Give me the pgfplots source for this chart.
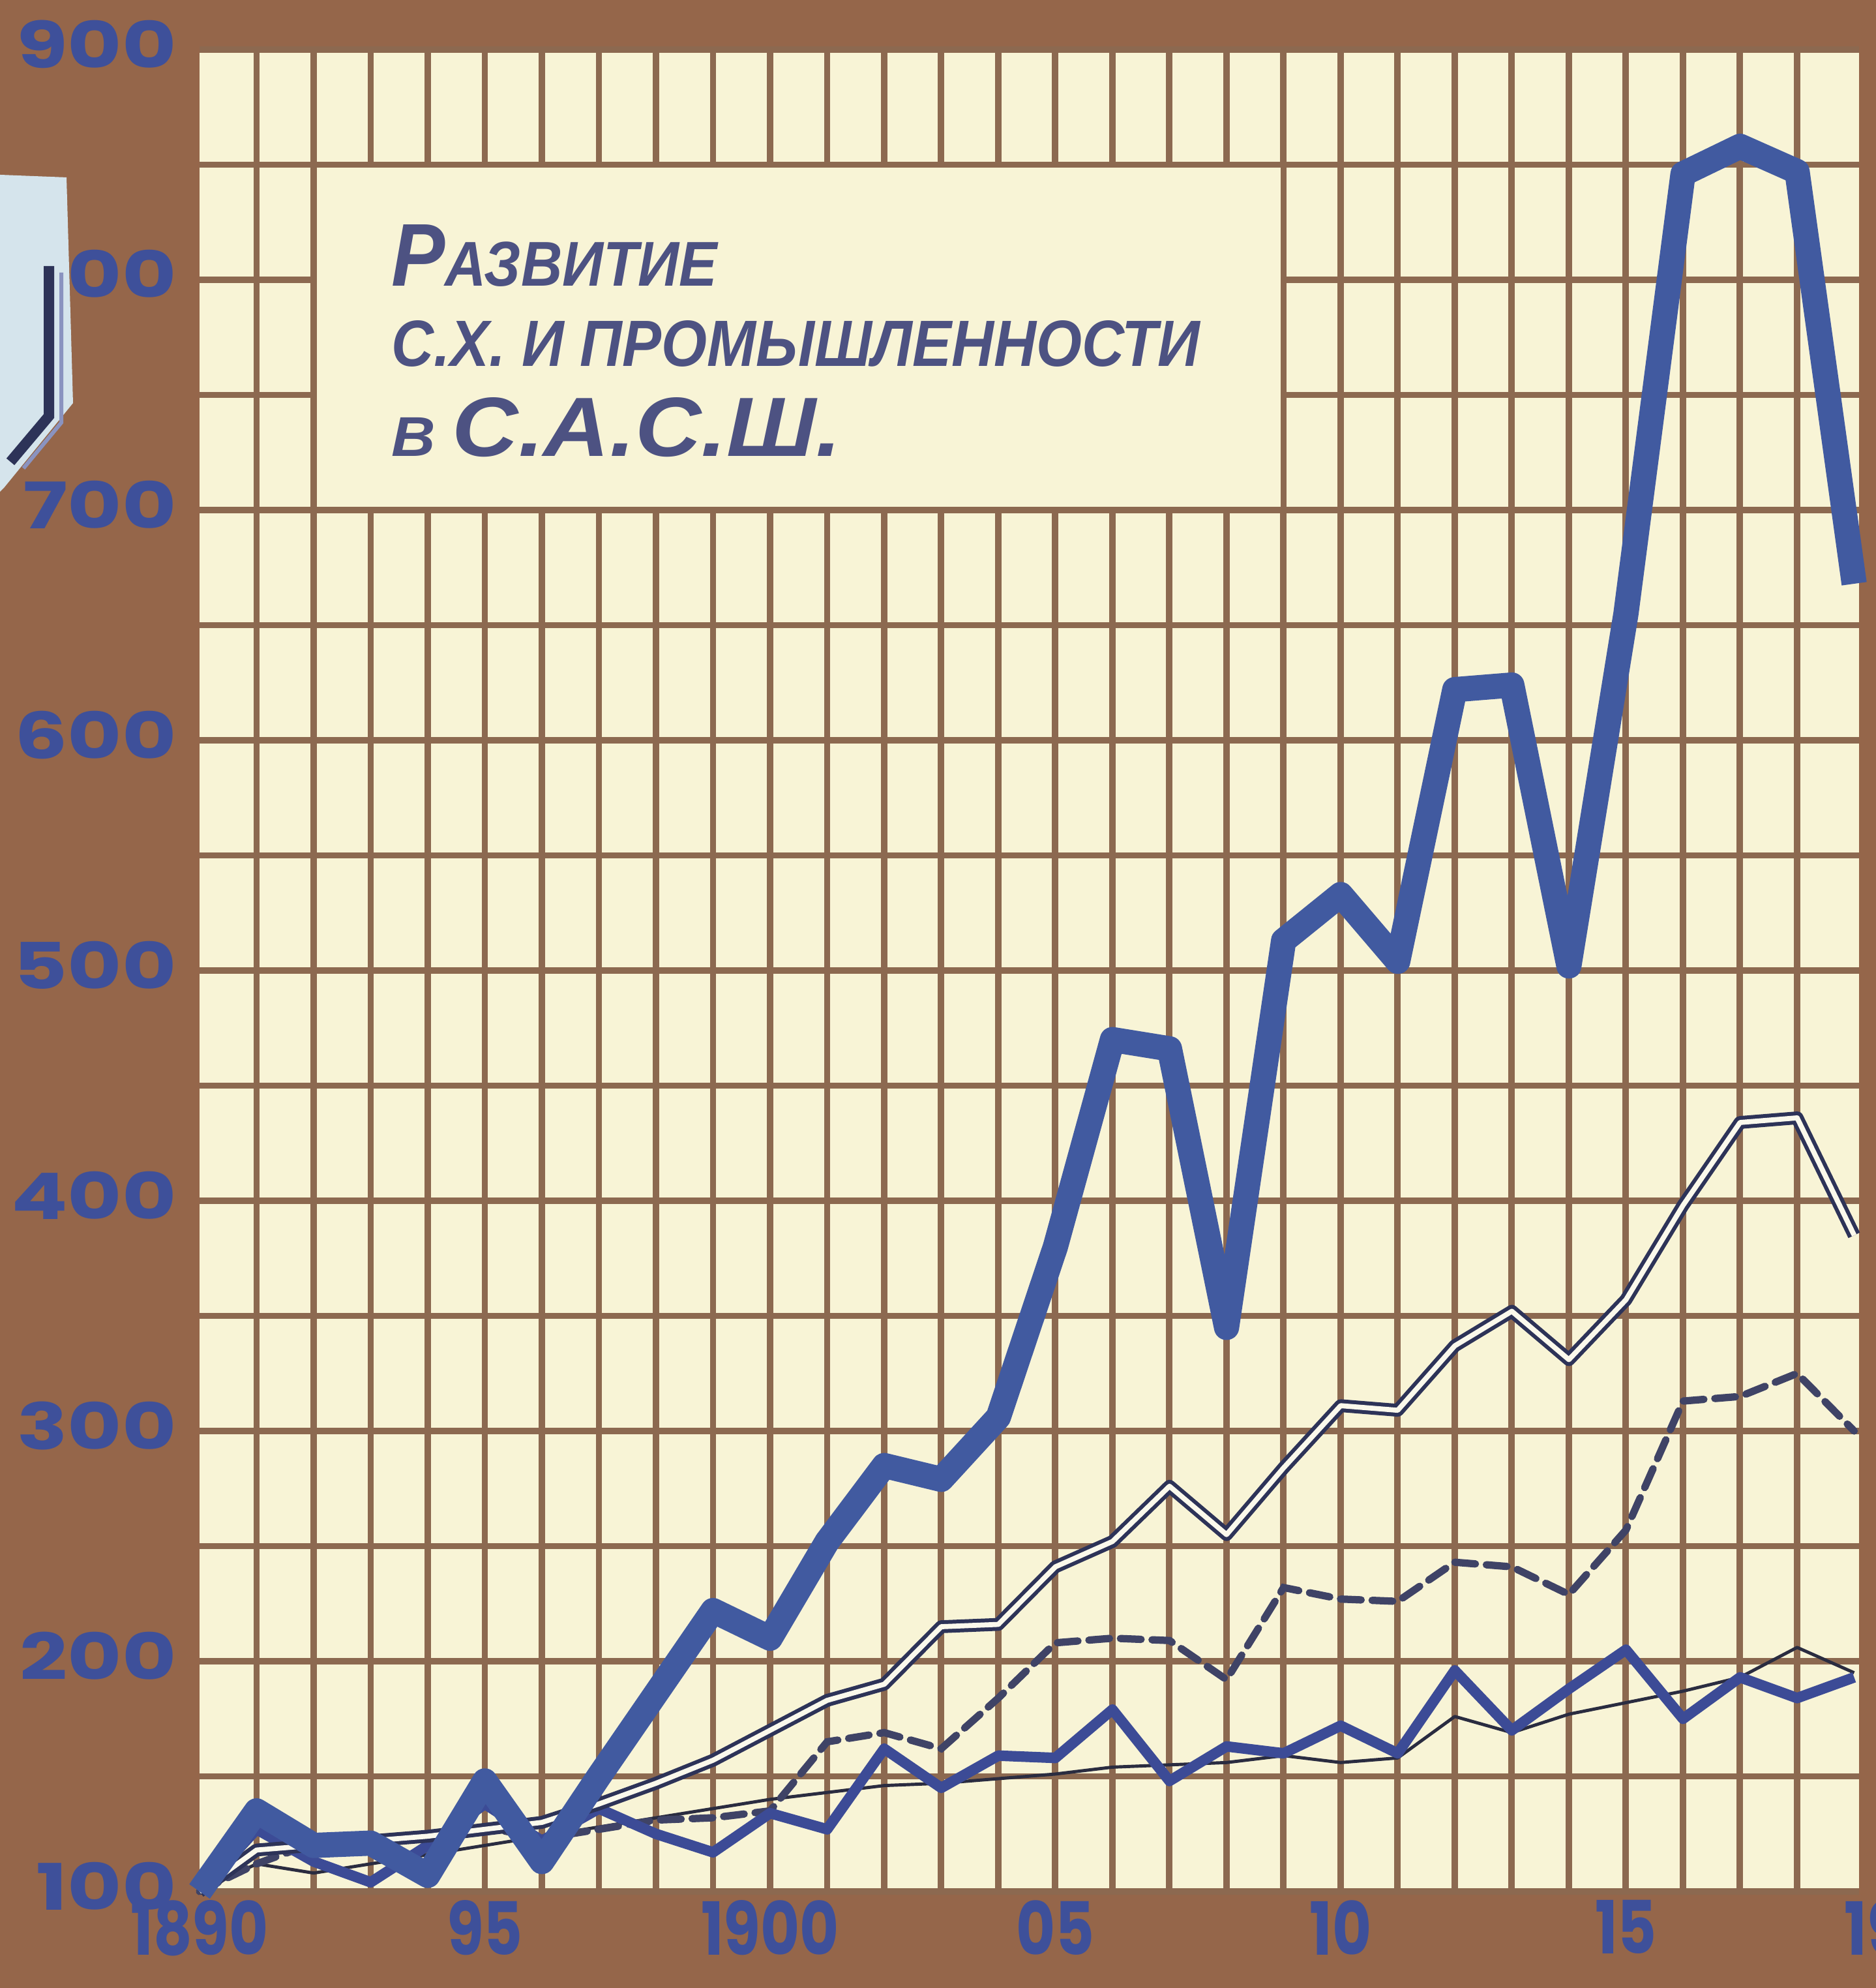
\documentclass[border=0pt]{standalone}
\usepackage{fontspec}
\setmainfont{Liberation Sans}
\usepackage{graphicx}
\usepackage{pgfplots}
\usepackage{pgfplotstable}
\pgfplotsset{compat=1.18}
\newfontfamily\numfont{Poppins}
\newfontfamily\titlefont{Liberation Sans}
\definecolor{bgbrown}{HTML}{95664A}
\definecolor{gridbrown}{HTML}{8C6950}
\definecolor{cream}{HTML}{F8F4D6}
\definecolor{numblue}{HTML}{3E509A}
\definecolor{titleblue}{HTML}{4D5282}
\definecolor{thickblue}{HTML}{415AA0}
\definecolor{medblue}{HTML}{3C4B96}
\definecolor{darkline}{HTML}{2D3358}
\definecolor{dashc}{HTML}{3F4366}
\definecolor{thinc}{HTML}{2A2C40}
\definecolor{scrapblue}{HTML}{D5E4EC}
\definecolor{innerwhite}{HTML}{FBF9EC}
\newcommand\ylab[1]{\scalebox{1.3}[1]{\numfont\bfseries\fontsize{14pt}{14pt}\selectfont #1}}
\newcommand\xlab[1]{\scalebox{0.82}[1]{\numfont\bfseries\fontsize{16pt}{16pt}\selectfont #1}}

\pgfplotstableread{
year T D S M N
1890 100 100 100 100 100
1891 135 118 112 127 112
1892 120 120 121 113 108
1893 121 122 123 104 112
1894 107 124 125 120 116
1895 148 127 128 138 120
1896 113 130 123 122 124
1897 150 138 127 136 128
1898 186 147 131 125 132
1899 222 157 132 117 136
1900 210 170 135 134 140
1901 252 183 165 127 143
1902 285 190 169 162 146
1903 279 215 162 145 147
1904 306 216 184 159 149
1905 380 241 208 158 151
1906 470 252 210 179 154
1907 466 276 209 148 155
1908 345 255 192 163 156
1909 513 284 232 160 159
1910 533 311 227 172 156
1911 504 309 226 160 158
1912 622 337 243 196 176
1913 624 352 241 170 169
1914 502 331 229 188 177
1915 655 357 257 205 182
1916 846 398 313 175 187
1917 858 434 315 193 193
1918 847 436 325 184 206
1919 668 385 300 193 195
}\data

\begin{document}
\begin{tikzpicture}
\fill[bgbrown] (0,0) rectangle (14.385cm,15.24cm);
\begin{axis}[
  at={(1.53cm,0.74cm)}, anchor=south west,
  scale only axis, width=12.7225cm, height=14.12cm,
  xmin=1890, xmax=1919.08, ymin=100, ymax=900,
  axis line style={draw=none},
  axis background/.style={fill=cream},
  xtick={1890,1895,1900,1905,1910,1915},
  xticklabels={\xlab{1890},\xlab{95},\xlab{1900},\xlab{05},\xlab{10},\xlab{15}},
  minor xtick={1891,1892,...,1918},
  ytick={100,200,...,900},
  yticklabels={\ylab{100},\ylab{200},\ylab{300},\ylab{400},\ylab{500},\ylab{600},\ylab{700},\ylab{800},\ylab{900}},
  minor ytick={150,250,...,850},
  xmajorgrids=false, xminorgrids=true, ymajorgrids=true, yminorgrids=true,
  minor grid style={gridbrown, line width=1.4pt},
  major grid style={gridbrown, line width=1.4pt},
  major tick length=0pt, minor tick length=0pt,
  tick style={draw=none},
  xticklabel style={anchor=north, inner sep=0pt, yshift=-0.06cm, text=numblue},
  yticklabel style={anchor=east, inner sep=0pt, xshift=-0.17cm, yshift=0.04cm, text=numblue},
  clip=false,
  no markers,
]
\fill[cream] ([shift={(0.7pt,0.7pt)}]axis cs:1892,700) rectangle ([shift={(-0.7pt,-0.7pt)}]axis cs:1909,850);
\addplot[thinc, line width=0.7pt, line join=round] table[x=year,y=N]{\data};
\addplot[dashc, line width=1.6pt, dash pattern=on 4.5pt off 2.4pt, line cap=round] table[x=year,y=S]{\data};
\addplot[medblue, line width=2.3pt, line join=round] table[x=year,y=M]{\data};
\addplot[darkline, line width=2.8pt, line join=round] table[x=year,y=D]{\data};
\addplot[innerwhite, line width=1.1pt, line join=round] table[x=year,y=D]{\data};
\addplot[thickblue, line width=5.5pt, line join=round] table[x=year,y=T]{\data};
\end{axis}
\node[overlay, anchor=north, inner sep=0pt, text=numblue] at (14.655cm,0.68cm) {\xlab{1920}};
% title
\node[anchor=base west, inner sep=0pt, text=titleblue] at (2.995cm,13.045cm)
  {\resizebox{2.5cm}{0.47cm}{\titlefont\bfseries\itshape{\fontsize{19pt}{19pt}\selectfont Р}{\fontsize{13.5pt}{13.5pt}\selectfont АЗВИТИЕ}}};
\node[anchor=base west, inner sep=0pt, text=titleblue] at (2.995cm,12.43cm)
  {\resizebox{6.2cm}{0.35cm}{\titlefont\bfseries\itshape С.Х. И ПРОМЫШЛЕННОСТИ}};
\node[anchor=base west, inner sep=0pt, text=titleblue] at (2.995cm,11.74cm)
  {\resizebox{3.45cm}{0.45cm}{\titlefont\bfseries\itshape{\fontsize{10pt}{10pt}\selectfont В} {\fontsize{15pt}{15pt}\selectfont С.А.С.Ш.}}};
% paper scrap on the left
\fill[scrapblue] (0,13.9) -- (0.51,13.88) -- (0.56,12.15) -- (0.03,11.5) -- (0,11.47) -- cycle;
\draw[darkline, line width=0.08cm] (0.375,13.2) -- (0.375,12.05) -- (0.08,11.7);
\draw[medblue!60, line width=0.03cm] (0.47,13.15) -- (0.47,12.0) -- (0.18,11.65);
\end{tikzpicture}
\end{document}
